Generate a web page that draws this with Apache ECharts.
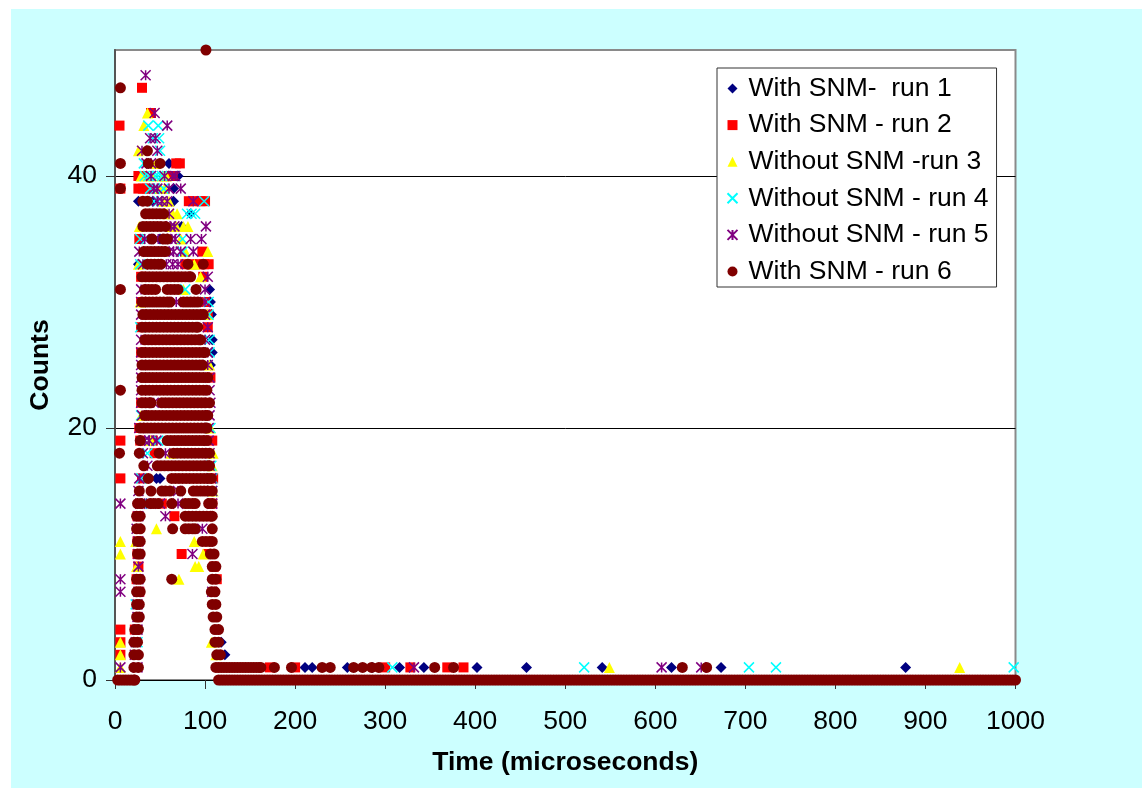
<!DOCTYPE html>
<html><head><meta charset="utf-8">
<script src="https://cdn.jsdelivr.net/npm/echarts@6/dist/echarts.min.js"></script>
<style>
html,body{margin:0;padding:0;background:#fff;width:1142px;height:788px;overflow:hidden}
#bg{position:absolute;left:11px;top:9px;right:0;bottom:0;background:#ccffff}
#chart{position:absolute;left:0;top:0;width:1142px;height:788px}
</style></head><body><div id="bg"></div><div id="chart"></div>
<script>
const seriesNames = ['With SNM-  run 1','With SNM - run 2','Without SNM -run 3','Without SNM - run 4','Without SNM - run 5','With SNM - run 6'];
const yTicks = [0,20,40];

// each table: counts -> times (microseconds) read at that count level
const run1Rows = {
 41:[60],40:[70],39:[65],38:[26,42,65],37:[84],36:[74],35:[50],33:[26],31:[105],30:[106],29:[107],27:[108],26:[108],25:[106],
 16:[46,50],3:[118],2:[122],
 1:[211,219,258,286,316,343,402,457,541,618,673,878]
};
const run2Rows = {
 47:[30],45:[40],44:[5],41:[68,72],40:[26,30,60,64],39:[6,26,31,36],38:[82,88,95,100],35:[27],34:[97],33:[78,85,92,99,104],32:[29,98],
 30:[29,100],29:[103],28:[29,103],26:[29],24:[106],22:[29],20:[27],
 19:[6,28,42,108],18:[44],16:[6,30,109],14:[52,108],13:[66,25],11:[25],10:[74,103,25],9:[26,110],8:[113,24],
 7:[27],4:[6,22],3:[6],2:[6],
 1:[172,200,300,328,369,387]
};
const run3Rows = {
 45:[36],44:[32],42:[26],41:[45],40:[29,41,53,57],39:[50,55],38:[54,60],37:[58,64,69],36:[27,62,68,76,81],35:[73],34:[78,103],33:[26,88],32:[95],31:[76],
 30:[28],29:[103],25:[105],21:[29],20:[106],19:[40],18:[109,62],17:[108],15:[109],12:[46],11:[6,88,23],10:[6,98],9:[89,93,24],8:[71],
 3:[6,107],2:[6,112],1:[6,549,938]
};
const run4Rows = {
 44:[37,48],43:[49,42],42:[50],41:[32],40:[33,37,45,48,52],39:[39,44,54],38:[43,48,99],37:[80,85,89],35:[28,35,75],34:[75],33:[28],31:[78],30:[104],
 29:[104],28:[28],27:[105],26:[105],21:[29],20:[106],19:[33,48],18:[36],17:[107],16:[29,108],15:[108],14:[30],6:[23],3:[25],
 1:[308,521,704,734,998]
};
const run5Rows = {
 48:[34],45:[44],44:[58],43:[39,45],42:[30,47],41:[35,40],40:[40,55,64,67],39:[43,47,60,73],38:[47,52,58,87],37:[60],35:[33,48,63,67,84,96],34:[27,60,65,73,87],33:[31,57,64,70],32:[103],
 36:[62,66,101],31:[29,100],30:[29,68,100],29:[29,100],28:[103],27:[29,100],26:[29,103],25:[29,103],24:[29,105],23:[29,105],22:[29,43,106],21:[30,105],20:[27,104],19:[33,38,46,104],
 18:[31,56,105],17:[36,105],16:[27,107],15:[26,70,108],14:[6,28,35,50,70,108],13:[56,26],12:[97,24],11:[26],10:[26,86],9:[26],
 8:[6,26],7:[6,26,108],6:[25],5:[25],4:[25],3:[23],2:[22],1:[6,25,332,607,651]
};
const run6Rows = {
 50:[101],47:[6],42:[36],41:[6,37,50],39:[6],38:[31,36],37:[34,38,42,46,50,54],36:[31,35,39,43,47,51,56],35:[41,54,58],
 34:[32,36,40,44,48,52,56],33:[36,40,44,48,51,81,98],
 32:[30,34,38,42,46,50,54,58,62,66,70,74,78,82,84],
 31:[6,33,37,41,45,58,62,66,70,90],
 30:[30,34,38,42,46,50,54,58,61,76,80,84,88,92],
 29:[31,35,39,43,47,51,55,59,63,67,71,75,79,83,87,91,95,98],
 28:[30,34,38,42,46,50,54,58,62,66,70,74,78,82,86,90,92],
 27:[33,37,41,45,49,53,57,61,65,69,73,77,81,85,89,93,95],
 26:[30,34,38,42,46,50,54,58,62,66,70,74,78,82,86,90,94,98,100],
 25:[30,34,38,42,46,50,54,58,62,66,70,74,78,82,86,90,94,97],
 24:[30,34,38,42,46,50,54,58,62,66,70,74,78,82,86,90,94,98,103],
 23:[6,30,34,38,42,46,50,54,58,62,66,70,74,78,82,86,90,94,98,102],
 22:[30,34,38,40,52,56,60,64,68,72,76,80,84,88,92,96,100,105],
 21:[33,37,41,45,49,53,57,61,65,69,73,77,81,85,89,93,97,101,103],
 20:[28,32,36,40,44,48,52,56,60,64,68,72,76,80,84,88,92,96,100,102],
 19:[28,58,62,66,70,74,78,82,86,90,94,98,102],
 18:[5,27,49,65,69,73,77,81,85,89,93,97,101,105],
 17:[32,47,51,55,59,63,67,71,75,79,83,87,91,95,99,103,105],
 16:[37,63,67,71,75,79,83,87,91,95,99,103,107],
 15:[27,40,52,56,61,73,87,91,95,99,103,108],
 14:[25,29,39,43,48,63,78,82,86,89,104,108],
 13:[24,28,78,82,86,90,94,98,102,106,108],
 12:[24,28,64,78,82,86,89,108],
 11:[25,28,97,101,105,108],10:[25,28,106,110],9:[108,112],8:[24,28,63,108,112],
 7:[24,28,107,111],6:[24,27,108,112],5:[24,27,109,113],4:[22,26,111,115],3:[21,25,111,115],2:[21,26,113,117],
 1:[21,26,112,115,118,121,124,127,130,133,136,139,142,145,148,151,154,157,160,162,177,196,230,239,265,275,285,293,355,376,630,657],
 0:[3,6,9,12,15,18,21,22,115,118,121,124,127,130,133,136,139,142,145,148,151,154,157,160,163,166,169,172,175,178,181,184,187,190,193,196,199,202,205,208,211,214,217,220,223,226,229,232,235,238,241,244,247,250,253,256,259,262,265,268,271,274,277,280,283,286,289,292,295,298,301,304,307,310,313,316,319,322,325,328,331,334,337,340,343,346,349,352,355,358,361,364,367,370,373,376,379,382,385,388,391,394,397,400,403,406,409,412,415,418,421,424,427,430,433,436,439,442,445,448,451,454,457,460,463,466,469,472,475,478,481,484,487,490,493,496,499,502,505,508,511,514,517,520,523,526,529,532,535,538,541,544,547,550,553,556,559,562,565,568,571,574,577,580,583,586,589,592,595,598,601,604,607,610,613,616,619,622,625,628,631,634,637,640,643,646,649,652,655,658,661,664,667,670,673,676,679,682,685,688,691,694,697,700,703,706,709,712,715,718,721,724,727,730,733,736,739,742,745,748,751,754,757,760,763,766,769,772,775,778,781,784,787,790,793,796,799,802,805,808,811,814,817,820,823,826,829,832,835,838,841,844,847,850,853,856,859,862,865,868,871,874,877,880,883,886,889,892,895,898,901,904,907,910,913,916,919,922,925,928,931,934,937,940,943,946,949,952,955,958,961,964,967,970,973,976,979,982,985,988,991,994,997,1000]
};

function points(rows){
  const out=[];
  Object.keys(rows).forEach(c=>rows[c].forEach(t=>out.push([t,+c])));
  return out;
}
const crossPath='path://M0 0L10 10M10 0L0 10';
const starPath='path://M0 0L10 10M10 0L0 10M5 0L5 10';
const look=[
 {symbol:'diamond',size:11,itemStyle:{color:'#000080'}},
 {symbol:'rect',size:10,itemStyle:{color:'#ff0000'}},
 {symbol:'triangle',size:11,itemStyle:{color:'#ffff00'}},
 {symbol:crossPath,size:10,itemStyle:{color:'none',borderColor:'#00ffff',borderWidth:1.5}},
 {symbol:starPath,size:10,itemStyle:{color:'none',borderColor:'#800080',borderWidth:1.5}},
 {symbol:'circle',size:11,itemStyle:{color:'#800000'}}
];
const tables=[run1Rows,run2Rows,run3Rows,run4Rows,run5Rows,run6Rows];
const font='"Liberation Sans", Arial, sans-serif';
const chart=echarts.init(document.getElementById('chart'),null,{renderer:'canvas'});
chart.setOption({
 animation:false,
 backgroundColor:'transparent',
 grid:{left:115,right:126.5,top:50,bottom:108,show:true,backgroundColor:'#fff',borderColor:'#8a8a8a',borderWidth:2,outerBoundsMode:'none'},
 xAxis:{type:'value',min:0,max:1000,interval:100,
  name:'Time (microseconds)',nameLocation:'middle',nameGap:69,nameMoveOverlap:false,
  nameTextStyle:{fontFamily:font,fontSize:26.5,fontWeight:'bold',color:'#000'},
  axisLine:{show:true,onZero:false,lineStyle:{color:'#000',width:1}},
  axisTick:{show:true,length:9,lineStyle:{color:'#333',width:1}},
  axisLabel:{fontFamily:font,fontSize:26.5,color:'#000',margin:28,formatter:v=>String(v)},
  splitLine:{show:false}},
 yAxis:{type:'value',min:0,max:50,interval:20,
  name:'Counts',nameLocation:'middle',nameGap:61,nameMoveOverlap:false,
  nameTextStyle:{fontFamily:font,fontSize:26.5,fontWeight:'bold',color:'#000'},
  axisLine:{show:true,lineStyle:{color:'#555',width:2}},
  axisTick:{show:true,length:9,lineStyle:{color:'#333',width:1},customValues:yTicks},
  axisLabel:{fontFamily:font,fontSize:26.5,color:'#000',margin:18,padding:[4,0,0,0],customValues:yTicks},
  splitLine:{show:true,showMinLine:false,showMaxLine:true,lineStyle:{color:'#000',width:1}}},
 legend:{show:true,orient:'vertical',left:717,top:68,
  backgroundColor:'#fff',borderColor:'#333',borderWidth:1,
  padding:[7,8,2,8],itemGap:9.6,itemWidth:10,itemHeight:10,
  textStyle:{fontFamily:font,fontSize:26.5,color:'#000',padding:[0,0,0,6],lineHeight:24},
  data:seriesNames},
 series:seriesNames.map((n,i)=>({
  name:n,type:'scatter',data:points(tables[i]),symbol:look[i].symbol,symbolSize:look[i].size,
  itemStyle:Object.assign({opacity:1},look[i].itemStyle),z:3+i,clip:false,
  emphasis:{disabled:true}
 }))
});
</script></body></html>
